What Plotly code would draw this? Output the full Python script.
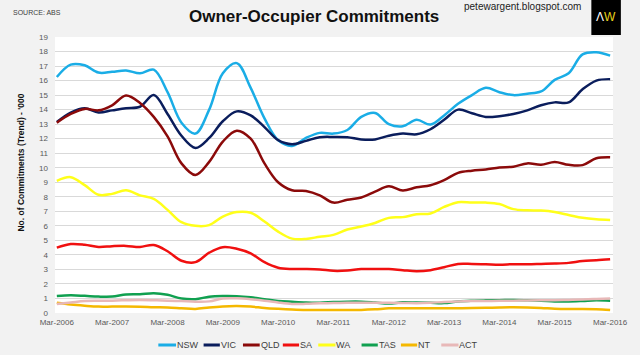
import pandas as pd
import plotly.graph_objects as go

# Quarterly observation dates, Mar-2006 .. Mar-2016 (41 points)
dates = list(pd.date_range("2006-03-01", "2016-03-01", freq="3MS").strftime("%Y-%m-%d"))

nsw = [16.25, 17.1, 17.05, 16.55, 16.6, 16.7, 16.5, 16.75, 15.2, 13.1, 12.35, 14.0, 16.5, 17.2, 15.5, 13.4,
       11.9, 11.5, 12.05, 12.4, 12.35, 12.6, 13.5, 13.77, 13.0, 12.85, 13.3, 12.97, 13.6, 14.4, 15.0, 15.5,
       15.2, 15.0, 15.1, 15.25, 16.05, 16.5, 17.8, 17.95, 17.72]
vic = [13.15, 13.8, 14.1, 13.8, 13.95, 14.1, 14.2, 15.0, 13.7, 12.2, 11.36, 12.05, 13.2, 13.88, 13.6, 12.8,
       11.9, 11.62, 11.85, 12.1, 12.12, 12.1, 11.95, 11.95, 12.2, 12.35, 12.3, 12.65, 13.3, 14.0, 13.75, 13.5,
       13.55, 13.7, 13.95, 14.3, 14.5, 14.5, 15.4, 16.0, 16.1]
qld = [13.1, 13.7, 14.05, 13.95, 14.3, 14.97, 14.46, 13.5, 12.16, 10.3, 9.5, 10.4, 11.8, 12.55, 12.0, 10.3,
       9.0, 8.45, 8.4, 8.1, 7.6, 7.8, 7.95, 8.35, 8.72, 8.43, 8.65, 8.8, 9.15, 9.65, 9.8, 9.88,
       10.02, 10.07, 10.3, 10.2, 10.4, 10.2, 10.18, 10.65, 10.72]
sa = [4.5, 4.75, 4.7, 4.55, 4.6, 4.62, 4.55, 4.68, 4.25, 3.6, 3.5, 4.15, 4.53, 4.42, 4.1, 3.5,
      3.12, 3.03, 3.03, 3.0, 2.9, 2.92, 3.03, 3.03, 3.03, 2.95, 2.88, 2.95, 3.15, 3.38, 3.38, 3.36,
      3.33, 3.36, 3.36, 3.38, 3.4, 3.45, 3.58, 3.63, 3.7]
wa = [9.1, 9.35, 8.8, 8.14, 8.2, 8.45, 8.1, 7.85, 7.1, 6.25, 6.0, 6.05, 6.64, 6.95, 6.9, 6.3,
      5.6, 5.12, 5.1, 5.25, 5.38, 5.75, 5.95, 6.2, 6.55, 6.6, 6.8, 6.85, 7.3, 7.63, 7.6, 7.6,
      7.5, 7.15, 7.07, 7.05, 6.95, 6.75, 6.55, 6.45, 6.41]
tas = [1.17, 1.22, 1.18, 1.13, 1.13, 1.27, 1.29, 1.36, 1.25, 1.0, 0.95, 1.12, 1.17, 1.16, 1.08, 0.95,
       0.83, 0.77, 0.72, 0.71, 0.75, 0.78, 0.78, 0.72, 0.65, 0.74, 0.72, 0.7, 0.68, 0.8, 0.85, 0.87,
       0.88, 0.9, 0.88, 0.85, 0.8, 0.8, 0.83, 0.87, 0.84]
nt = [0.7, 0.58, 0.5, 0.44, 0.44, 0.44, 0.43, 0.4, 0.38, 0.33, 0.28, 0.38, 0.45, 0.48, 0.44, 0.35,
      0.29, 0.24, 0.21, 0.21, 0.21, 0.21, 0.21, 0.25, 0.32, 0.32, 0.33, 0.33, 0.32, 0.33, 0.35, 0.36,
      0.38, 0.39, 0.38, 0.35, 0.3, 0.28, 0.28, 0.26, 0.21]
act = [0.62, 0.72, 0.82, 0.84, 0.85, 0.88, 0.9, 0.88, 0.85, 0.82, 0.78, 0.8, 1.0, 1.01, 0.95, 0.85,
       0.72, 0.62, 0.63, 0.67, 0.68, 0.7, 0.7, 0.71, 0.7, 0.69, 0.67, 0.7, 0.76, 0.8, 0.82, 0.83,
       0.84, 0.85, 0.86, 0.87, 0.88, 0.9, 0.93, 0.97, 1.0]

series_names = ["NSW", "VIC", "QLD", "SA", "WA", "TAS", "NT", "ACT"]
series_values = [nsw, vic, qld, sa, wa, tas, nt, act]
colors = ["#1AADE6", "#0A1D5C", "#8B0A0A", "#F01010", "#FFFF1A", "#10A050", "#F5B800", "#E8B8B8"]

tick_dates = ["%d-03-01" % y for y in range(2006, 2017)]
tick_labels = ["Mar-%d" % y for y in range(2006, 2017)]
y_ticks = list(range(0, 20))

NARROW = "Liberation Sans Narrow, Arial Narrow, Liberation Sans, Arial, sans-serif"
SANS = "Liberation Sans, Arial, sans-serif"

fig = go.Figure()
for name, vals, col in zip(series_names, series_values, colors):
    fig.add_trace(go.Scatter(x=dates, y=vals, name=name, mode="lines",
                             line=dict(color=col, width=2.5, shape="spline", smoothing=1.0),
                             showlegend=False))

# plot-area geometry in pixels (for placing the hand-drawn legend / labels)
L, R, T, B = 55, 18, 37, 42
W, H = 640, 355
pw, ph = W - L - R, H - T - B

def px(x):
    return (x - L) / pw

def py(y):
    return (H - B - y) / ph

shapes = []
annotations = []

# custom legend (line sample + label), matching reference spacing
legend_pos = [(160, 178), (206, 222.5), (246, 263), (286.5, 303), (322.5, 340),
              (366.5, 383), (406.5, 423), (447.5, 465)]
for (x0, x1), name, col in zip(legend_pos, series_names, colors):
    shapes.append(dict(type="line", xref="paper", yref="paper", x0=px(x0), x1=px(x1),
                       y0=py(345), y1=py(345), line=dict(color=col, width=3)))
    annotations.append(dict(xref="paper", yref="paper", x=px(x1), y=py(345),
                            text=name, showarrow=False, xanchor="left", yanchor="middle",
                            borderpad=0,
                            font=dict(family=NARROW, size=9, color="#404040")))

# title and captions
annotations.append(dict(xref="paper", yref="paper", x=px(318), y=py(16), text="<b>Owner-Occupier Commitments</b>",
                        showarrow=False, xanchor="center", yanchor="middle",
                        font=dict(family=SANS, size=17, color="#111111")))
annotations.append(dict(xref="paper", yref="paper", x=px(10), y=py(12.5), text="SOURCE: ABS",
                        showarrow=False, xanchor="left", yanchor="middle",
                        font=dict(family=NARROW, size=7, color="#404040")))
annotations.append(dict(xref="paper", yref="paper", x=px(530), y=py(7), text="petewargent.blogspot.com",
                        showarrow=False, xanchor="center", yanchor="middle",
                        font=dict(family=SANS, size=10, color="#222222")))
# logo
shapes.append(dict(type="rect", xref="paper", yref="paper", x0=px(600), x1=px(630), y0=py(35), y1=py(0),
                   fillcolor="#000000", line=dict(width=0), layer="above"))
annotations.append(dict(xref="paper", yref="paper", x=px(615), y=py(17),
                        text="<span style='color:#FFFFFF'>Λ</span><span style='color:#E8D21A'>W</span>",
                        showarrow=False, xanchor="center", yanchor="middle",
                        font=dict(family=SANS, size=12, color="#FFFFFF")))
# y-axis title
annotations.append(dict(xref="paper", yref="paper", x=px(20), y=py(163),
                        text="<b>No. of Commitments (Trend) - '000</b>", textangle=-90,
                        showarrow=False, xanchor="center", yanchor="middle",
                        font=dict(family=NARROW, size=8.5, color="#111111")))

fig.update_layout(
    width=W, height=H,
    margin=dict(l=L, r=R, t=T, b=B, pad=0),
    paper_bgcolor="#F2F2F2", plot_bgcolor="#FFFFFF",
    showlegend=False,
    shapes=shapes, annotations=annotations,
    xaxis=dict(type="date", range=["2006-02-17", "2016-03-20"], tickvals=tick_dates, ticktext=tick_labels,
               showgrid=False, zeroline=False, showline=False, ticks="",
               ticklabelstandoff=3,
               tickfont=dict(family=NARROW, size=8, color="#595959")),
    yaxis=dict(range=[0, 19], tickvals=y_ticks, ticktext=[str(v) for v in y_ticks],
               showgrid=True, gridcolor="#D9D9D9", gridwidth=1, zeroline=False, showline=False, ticks="",
               ticklabelstandoff=6,
               tickfont=dict(family=NARROW, size=8, color="#595959")),
)

fig.write_html("out.html", config={"displayModeBar": False},
               post_script="document.body.style.margin='0';document.body.style.overflow='hidden';")
